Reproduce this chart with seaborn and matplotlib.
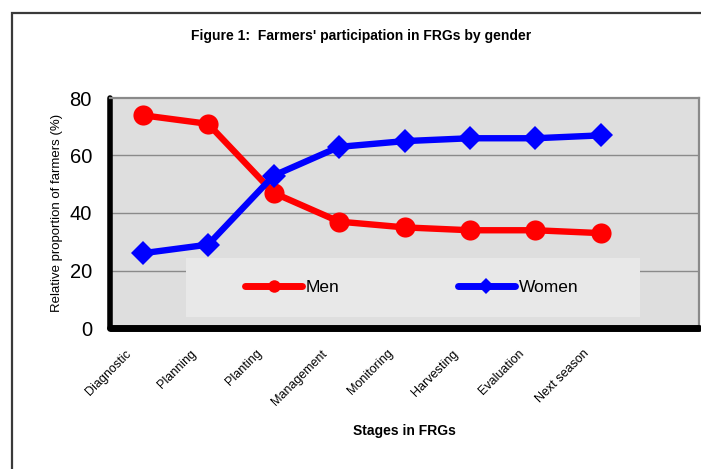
import pandas as pd
import seaborn as sns
import matplotlib.pyplot as plt
from matplotlib.patches import Rectangle

stages = ["Diagnostic", "Planning", "Planting", "Management", "Monitoring",
          "Harvesting", "Evaluation", "Next season"]
men = [74, 71, 47, 37, 35, 34, 34, 33]
women = [26, 29, 53, 63, 65, 66, 66, 67]

df = pd.DataFrame({"pos": list(range(len(stages))) * 2,
                   "value": men + women,
                   "group": ["Men"] * len(men) + ["Women"] * len(women)})

sns.set_style("white")
plt.rcParams['font.family'] = ['Liberation Sans', 'DejaVu Sans']
plt.rcParams['text.color'] = 'black'
plt.rcParams['axes.labelcolor'] = 'black'
plt.rcParams['xtick.color'] = 'black'
plt.rcParams['ytick.color'] = 'black'

fig = plt.figure(figsize=(7.01, 4.69), dpi=100)
# outer chart frame (only top and left edges visible)
fig.patches.append(Rectangle((12 / 701, -0.1), 1.2, 1 - 13 / 469 + 0.1, transform=fig.transFigure,
                             fill=False, edgecolor="#3a3a3a", linewidth=1.6))
ax = fig.add_axes([110 / 701, 1 - 328 / 469, 589 / 701, 230 / 469])
ax.set_facecolor("#dedede")

for y in [20, 40, 60]:
    ax.axhline(y, color="#8a8a8a", linewidth=1, zorder=1)
# legend box background
ax.add_patch(Rectangle((76 / 589, 11.5 / 230), 454 / 589, 58.5 / 230, transform=ax.transAxes,
                       facecolor="#e8e8e8", edgecolor="none", zorder=2))

sns.lineplot(data=df, x="pos", y="value", hue="group", style="group",
             palette={"Men": "#ff0000", "Women": "#0000ff"},
             markers={"Men": "o", "Women": "D"}, dashes=False,
             linewidth=4.6, markeredgewidth=0, ax=ax, zorder=3, legend=False)
for line, ms in zip(ax.lines[-2:], [14.5, 12.5]):
    line.set_markersize(ms)

ax.set_xlim(-0.5, 8.5)
ax.set_ylim(0, 80)
ax.set_yticks([0, 20, 40, 60, 80])
ax.set_xticks([i - 0.5 for i in range(10)])
ax.set_xticklabels([])
# category labels sit a little left of each category centre, as in the original
ax.set_xticks([i - 0.27 for i in range(len(stages))], minor=True)
ax.set_xticklabels(stages, minor=True, rotation=45, ha="right",
                   rotation_mode="anchor", fontsize=9)
ax.tick_params(axis="x", which="minor", length=0, pad=14)
ax.tick_params(axis="x", which="major", length=5, width=3, color="black", direction="out")
ax.tick_params(axis="y", length=3, width=3, color="black", labelsize=14.5, pad=10)

for s in ["top", "right"]:
    ax.spines[s].set_color("#8a8a8a")
    ax.spines[s].set_linewidth(1.6)
ax.spines["left"].set_color("black")
ax.spines["left"].set_linewidth(4)
ax.spines["bottom"].set_color("black")
ax.spines["bottom"].set_linewidth(5)
ax.spines["left"].set_capstyle("round")
ax.spines["bottom"].set_capstyle("round")

ax.set_xlabel("")
ax.set_ylabel("Relative proportion of farmers (%)", fontsize=9.5, labelpad=5)
fig.text(404 / 701, 1 - 431 / 469, "Stages in FRGs", ha="center", va="center",
         fontsize=10, fontweight="bold")
fig.text(361 / 701, 1 - 36 / 469, "Figure 1:  Farmers' participation in FRGs by gender",
         ha="center", va="center", fontsize=10, fontweight="bold")

h_men = plt.Line2D([], [], color="#ff0000", linewidth=5, marker="o", markersize=9,
                   markeredgewidth=0)
h_women = plt.Line2D([], [], color="#0000ff", linewidth=5, marker="D", markersize=8,
                     markeredgewidth=0)
ax.legend([h_men, h_women], ["Men", "Women"], loc="center", bbox_to_anchor=(0.512, 0.177),
          ncol=2, frameon=False, fontsize=12.5, handlelength=3.3, handletextpad=0.2,
          columnspacing=6.8, numpoints=1)

fig.savefig("out.png", dpi=100)
